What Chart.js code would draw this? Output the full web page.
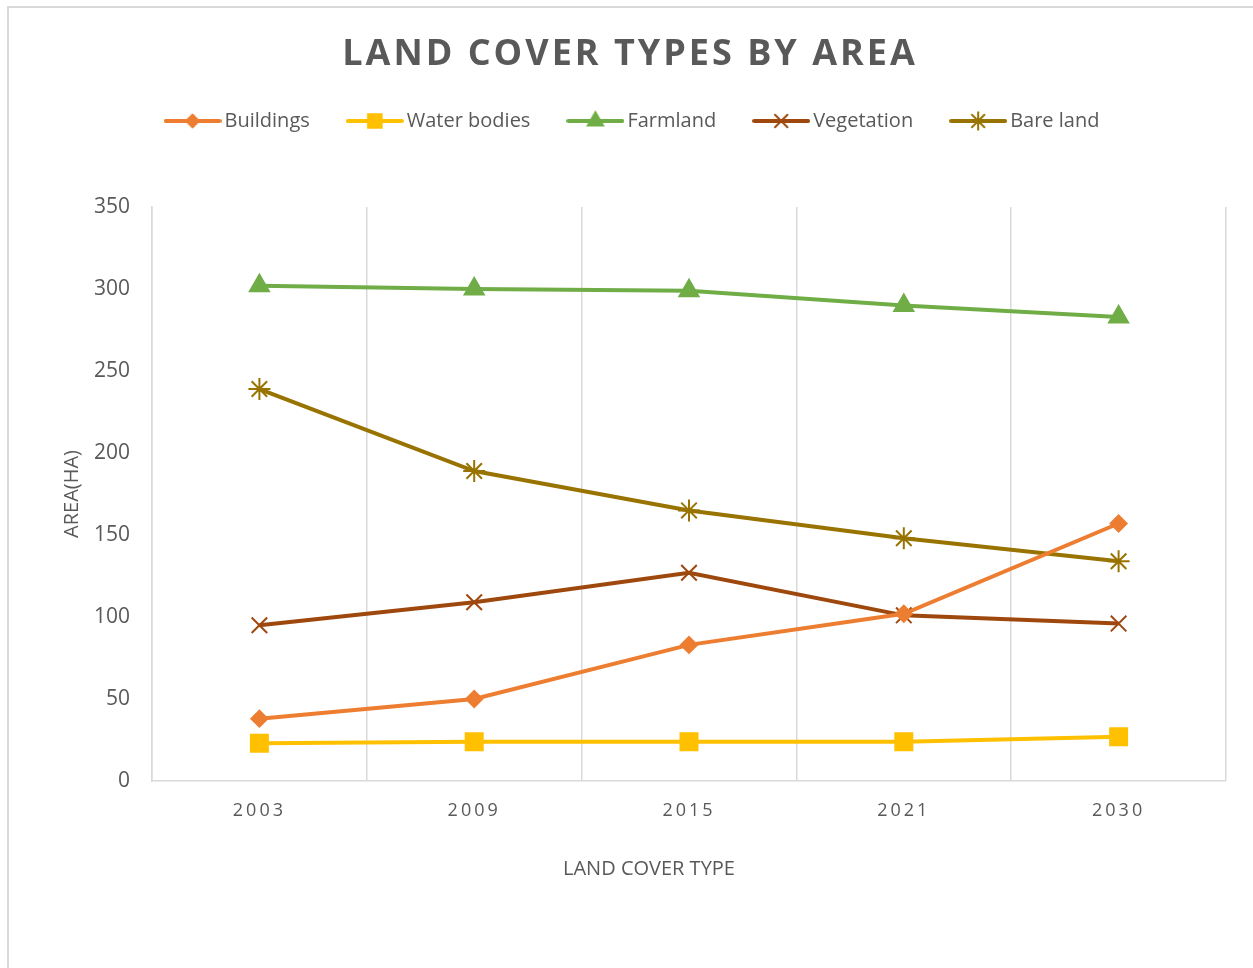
<!DOCTYPE html>
<html>
<head>
<meta charset="utf-8">
<script src="https://cdn.jsdelivr.net/npm/chart.js@4.4.1/dist/chart.umd.min.js"></script>
<style>
    html, body { margin: 0; padding: 0; background: #fff; overflow: hidden; }
    #frame { position: absolute; left: 7px; top: 6px; width: 1300px; height: 1000px; border: 2px solid #d9d9d9; }
    #wrap { position: absolute; left: 0; top: 0; width: 1253px; height: 968px; }
</style>
</head>
<body>
<div id="frame"></div>
<div id="wrap"><canvas id="landChart"></canvas></div>
<script>
const years = ["2003", "2009", "2015", "2021", "2030"];
const buildings = [38, 50, 83, 102, 157];
const waterBodies = [23, 24, 24, 24, 27];
const farmland = [302, 300, 299, 290, 283];
const vegetation = [95, 109, 127, 101, 96];
const bareLand = [239, 189, 165, 148, 134];
const yTicks = [0, 50, 100, 150, 200, 250, 300, 350];

const textColor = "#595959";
const gridColor = "#d9d9d9";
const fontFamily = "'Open Sans', sans-serif";

const seriesStyle = [
    { label: "Buildings", data: buildings, color: "#ED7D31", point: "rectRot", radius: 8 },
    { label: "Water bodies", data: waterBodies, color: "#FFC000", point: "rect", radius: 12 },
    { label: "Farmland", data: farmland, color: "#70AD47", point: "triangle", radius: 11 },
    { label: "Vegetation", data: vegetation, color: "#9E480E", point: "crossRot", radius: 11 },
    { label: "Bare land", data: bareLand, color: "#997300", point: "star", radius: 11 }
];

// legend swatch: short line with the marker in the middle
function legendSwatch(s) {
    const c = document.createElement("canvas");
    c.width = 58;
    c.height = 22;
    const ctx = c.getContext("2d");
    ctx.strokeStyle = s.color;
    ctx.lineWidth = 4;
    ctx.lineCap = "round";
    ctx.beginPath();
    ctx.moveTo(2, 11);
    ctx.lineTo(56, 11);
    ctx.stroke();
    if (Chart.helpers && Chart.helpers.drawPoint) {
        ctx.fillStyle = s.color;
        ctx.strokeStyle = s.color;
        ctx.lineWidth = 2;
        Chart.helpers.drawPoint(ctx, { pointStyle: s.point, radius: s.radius * 0.8, rotation: 0, borderWidth: 2 }, 29, 11);
    }
    return c;
}

function wrapDraw(obj, fn, before) {
    if (!obj || obj["_orig_" + fn]) return;
    const orig = obj[fn];
    obj["_orig_" + fn] = orig;
    obj[fn] = function (...args) {
        const ctx = this.ctx;
        ctx.save();
        before(ctx);
        orig.apply(this, args);
        ctx.restore();
    };
}

const textTweaks = {
    id: "textTweaks",
    beforeInit(chart) {
        const fit = chart.legend.fit;
        chart.legend.fit = function () {
            fit.bind(chart.legend)();
            this.height += 66;
        };
    },
    afterLayout(chart) {
        wrapDraw(chart.titleBlock, "draw", ctx => { ctx.letterSpacing = "3px"; });
        wrapDraw(chart.legend, "draw", ctx => { ctx.translate(5, 0); });
        wrapDraw(chart.scales.x, "drawLabels", ctx => { ctx.letterSpacing = "3px"; });
        wrapDraw(chart.scales.x, "drawTitle", ctx => { ctx.translate(-40, 0); });
    }
};

const swatches = seriesStyle.map(legendSwatch);

new Chart(document.getElementById("landChart"), {
    type: "line",
    data: {
        labels: years,
        datasets: seriesStyle.map(s => ({
            label: s.label,
            data: s.data,
            borderColor: s.color,
            backgroundColor: s.color,
            borderWidth: 4,
            tension: 0,
            fill: false,
            pointStyle: s.point,
            pointRadius: s.radius,
            pointBorderWidth: 2,
            pointBackgroundColor: s.color,
            pointBorderColor: s.color
        }))
    },
    options: {
        responsive: true,
        maintainAspectRatio: false,
        animation: false,
        layout: { padding: { left: 34, right: 27, top: 0, bottom: 0 } },
        plugins: {
            title: {
                display: true,
                text: "LAND COVER TYPES BY AREA",
                color: textColor,
                font: { family: fontFamily, size: 36, weight: "bold" },
                padding: { top: 33, bottom: -8.2 }
            },
            legend: {
                position: "top",
                labels: {
                    color: textColor,
                    font: { family: fontFamily, size: 20 },
                    usePointStyle: true,
                    pointStyleWidth: 44,
                    padding: 43,
                    generateLabels(chart) {
                        return Chart.defaults.plugins.legend.labels.generateLabels(chart).map((item, i) => {
                            item.pointStyle = swatches[i];
                            return item;
                        });
                    }
                }
            },
            tooltip: { enabled: false }
        },
        scales: {
            x: {
                offset: true,
                grid: { display: true, color: gridColor, lineWidth: 1.5, offset: true, drawTicks: false },
                border: { display: true, color: gridColor, width: 1.5 },
                ticks: { color: textColor, font: { family: fontFamily, size: 18 }, padding: 19 },
                title: {
                    display: true,
                    text: "LAND COVER TYPE",
                    color: textColor,
                    font: { family: fontFamily, size: 20 },
                    padding: { top: 0, bottom: 87 }
                },
                afterFit(scale) { scale.height = 187; }
            },
            y: {
                min: 0,
                max: 350,
                grid: { display: false, drawTicks: false },
                border: { display: true, color: gridColor, width: 1.5 },
                afterBuildTicks(scale) { scale.ticks = yTicks.map(v => ({ value: v })); },
                ticks: { color: textColor, font: { family: fontFamily, size: 21 }, padding: 22 },
                title: {
                    display: true,
                    text: "AREA(HA)",
                    color: textColor,
                    font: { family: fontFamily, size: 20 },
                    padding: { top: 26, bottom: 0 }
                },
                afterFit(scale) { scale.width = 118; }
            }
        }
    },
    plugins: [textTweaks]
});
</script>
</body>
</html>
